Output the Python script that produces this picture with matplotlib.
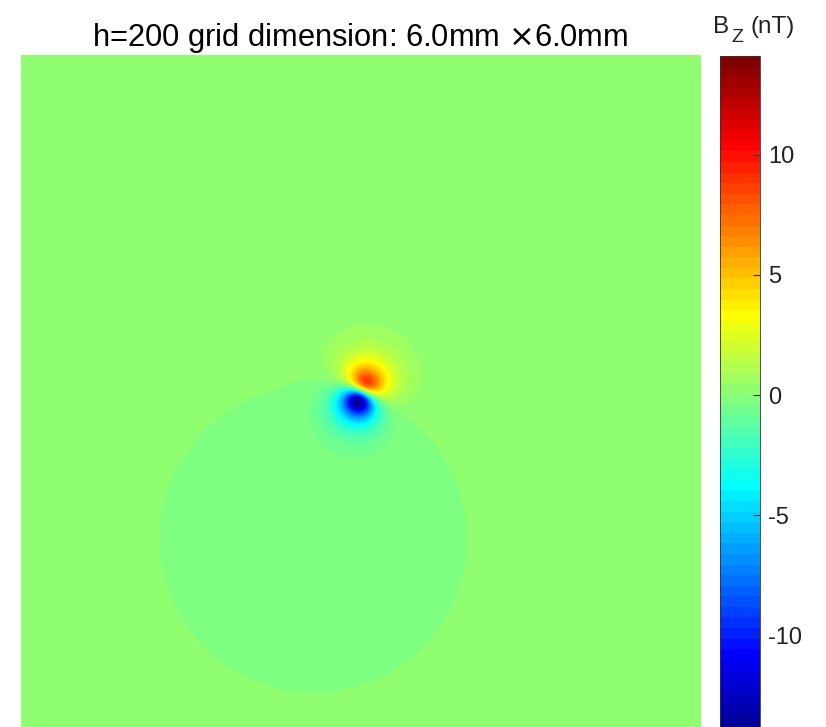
import numpy as np
import matplotlib
matplotlib.use("Agg")
import matplotlib.pyplot as plt
from matplotlib.colors import ListedColormap

# ---- data ----
grid_size_mm = 6.0            # grid dimension (mm)
n_grid = 601
sensor_height_mm = 0.205      # effective stand-off (h)
dipole_x_mm = 3.006           # dipole centre
dipole_y_mm = 3.008
dipole_angle_deg = 66.5       # in-plane moment direction (from +x)
vertical_ratio = 0.2          # (negative) out-of-plane moment / in-plane moment
min_nT = -14.1                # most negative Bz
background_nT = 0.03          # level outside the disk
disk_level_nT = -0.03         # level inside the disk
disk_x_mm = 2.58
disk_y_mm = 1.72
disk_r_mm = 1.36
clim = [-14.1, 14.1]
cbar_ticks = [-10, -5, 0, 5, 10]
title_text = "h=200 grid dimension: 6.0mm $\\times$6.0mm"

# ---- MATLAB-style jet(64) colormap ----
def matlab_jet(m=64):
    n = int(np.ceil(m / 4))
    u = np.concatenate([np.arange(1, n + 1) / n, np.ones(n - 1), np.arange(n, 0, -1) / n])
    g = int(np.ceil(n / 2)) - (1 if m % 4 == 1 else 0) + np.arange(1, len(u) + 1)
    r = g + n
    b = g - n
    J = np.zeros((m, 3))
    for idx, ch in ((r, 0), (g, 1), (b, 2)):
        ok = (idx >= 1) & (idx <= m)
        J[idx[ok] - 1, ch] = u[ok]
    return ListedColormap(J)

cmap = matlab_jet(64)

# ---- field ----
xs = np.linspace(0, grid_size_mm, n_grid)
ys = np.linspace(0, grid_size_mm, n_grid)
X, Y = np.meshgrid(xs, ys)
dx = X - dipole_x_mm
dy = Y - dipole_y_mm
h = sensor_height_mm
th = np.deg2rad(dipole_angle_deg)
rho2 = dx**2 + dy**2
mdotr = np.cos(th) * dx + np.sin(th) * dy
den = (rho2 + h**2) ** 2.5
dip = (3 * h * mdotr - vertical_ratio * (2 * h**2 - rho2)) / den
dip = dip / abs(dip.min()) * abs(min_nT)

rd = np.hypot(X - disk_x_mm, Y - disk_y_mm)
inside = 0.5 * (1 - np.tanh((rd - disk_r_mm) / 0.01))
base = background_nT + (disk_level_nT - background_nT) * inside
B = base + dip

# ---- figure ----
W, H = 826, 727
fig = plt.figure(figsize=(W / 100, H / 100), dpi=100)
plt.rcParams['font.family'] = ['Liberation Sans', 'DejaVu Sans']

ax = fig.add_axes([21 / W, (H - 734) / H, 679 / W, 679 / H])
im = ax.imshow(B, origin='lower', extent=[0, grid_size_mm, 0, grid_size_mm],
               cmap=cmap, vmin=clim[0], vmax=clim[1], interpolation='bilinear')
ax.set_axis_off()
fig.text(360.5 / W, 1 - 38 / H, title_text, ha='center', va='center', fontsize=22.2)

cax = fig.add_axes([720 / W, (H - 734) / H, 40 / W, 678 / H])
cb = fig.colorbar(im, cax=cax, ticks=cbar_ticks)
cb.outline.set_linewidth(0.6)
cb.outline.set_edgecolor('#333333')
cax.tick_params(direction='in', length=5, width=0.8, color='#333333',
                labelsize=17, pad=6, labelcolor='#222222')
cax.set_yticklabels([str(t) for t in cbar_ticks])

# colorbar title  B_Z (nT)
fig.text(713 / W, 1 - 33 / H, "B", ha='left', va='baseline', fontsize=17.5, color='#222222')
fig.text(731 / W, 1 - 42 / H, "Z", ha='left', va='baseline', fontsize=14, color='#222222')
fig.text(751 / W, 1 - 33 / H, "(nT)", ha='left', va='baseline', fontsize=17.5, color='#222222')

fig.savefig("out.png", dpi=100)
